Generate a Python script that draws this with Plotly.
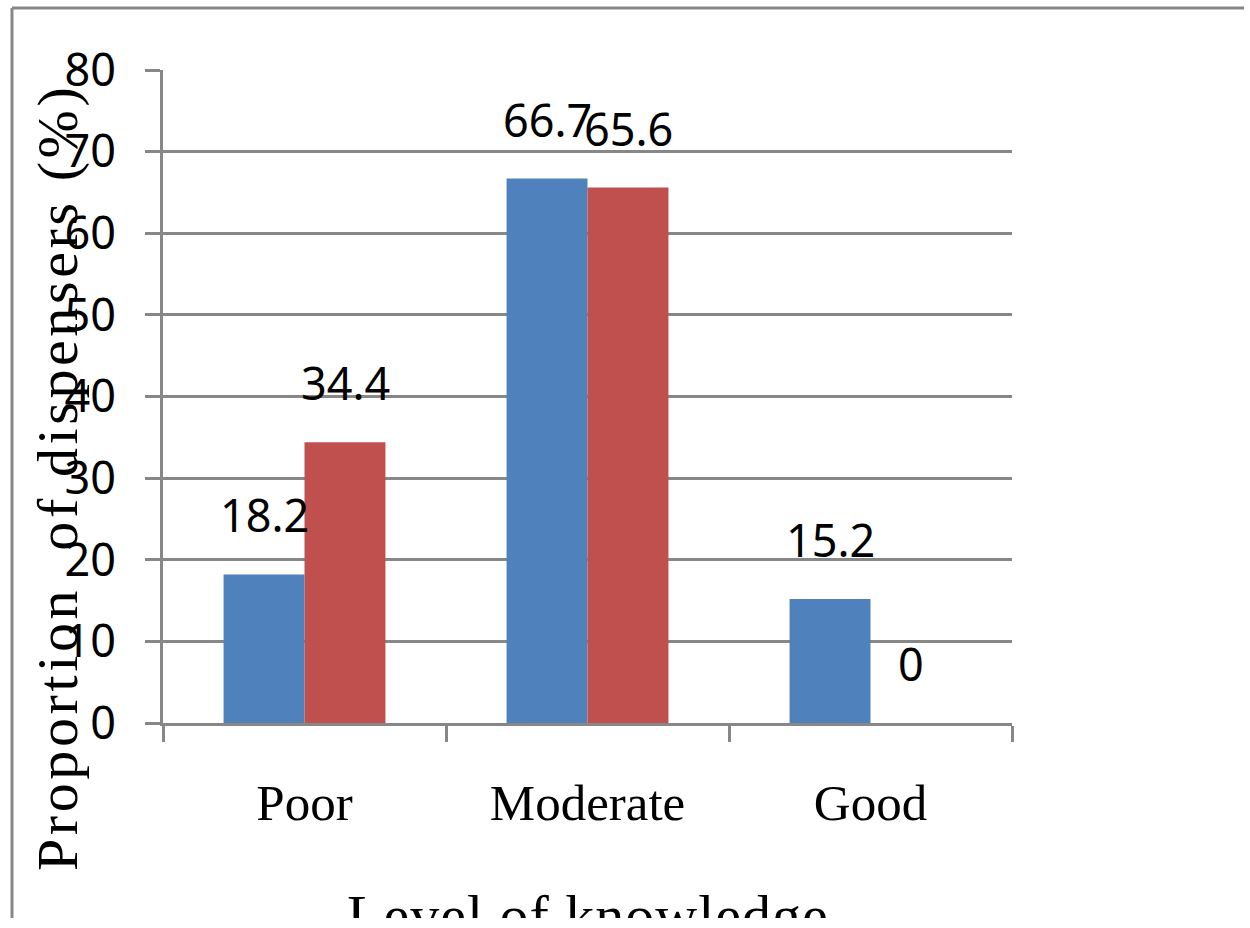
import plotly.graph_objects as go

# Knowledge level categories and the share of dispensers (%) per series
categories = ["Poor", "Moderate", "Good"]
series_1 = [18.2, 66.7, 15.2]
series_2 = [34.4, 65.6, 0]
y_ticks = [0, 10, 20, 30, 40, 50, 60, 70, 80]

W, H = 1250, 918
L, R, T, B = 163, 238, 70, 195  # plot area 163..1012 x 70..723 px

def px_x(px):
    return (px - L) / (W - L - R)

def px_y(py):
    return (H - B - py) / (H - T - B)

BLUE = "#4F81BD"
RED = "#C0504D"
GRID = "#878787"
NUM_FONT = dict(family="Noto Sans, Open Sans, sans-serif", size=45, color="black")
SERIF = "Liberation Serif, Times New Roman, serif"

fig = go.Figure()
fig.add_trace(go.Bar(x=categories, y=series_1, name="Series 1",
                     marker=dict(color=BLUE, line=dict(width=0))))
fig.add_trace(go.Bar(x=categories, y=series_2, name="Series 2",
                     marker=dict(color=RED, line=dict(width=0))))

# value labels above each bar
bar_offset = 40.5
for vals, shift in ((series_1, -bar_offset), (series_2, bar_offset)):
    for cat, v in zip(categories, vals):
        fig.add_annotation(x=cat, y=v, xref="x", yref="y", text=str(v),
                           showarrow=False, xshift=shift, yshift=27,
                           yanchor="bottom", xanchor="center", font=NUM_FONT)

# y-axis title drawn as rotated text
fig.add_annotation(
    x=px_x(57), y=px_y(478), xref="paper", yref="paper",
    text='<span style="letter-spacing:3.6px">Proportion\u00a0\u00a0of dispensers (%)</span>',
    textangle=-90, showarrow=False, xanchor="center", yanchor="middle",
    font=dict(family=SERIF, size=58, color="black"))

# x-axis title
fig.add_annotation(
    x=0.5, y=px_y(881), xref="paper", yref="paper",
    text='<span style="letter-spacing:1px">Level of knowledge</span>',
    showarrow=False, xanchor="center", yanchor="top",
    font=dict(family=SERIF, size=58, color="black"))

# outer chart frame (top and left edges)
fig.add_shape(type="line", xref="paper", yref="paper",
              x0=px_x(12), x1=px_x(1244), y0=px_y(8), y1=px_y(8),
              line=dict(color=GRID, width=3))
fig.add_shape(type="line", xref="paper", yref="paper",
              x0=px_x(12), x1=px_x(12), y0=px_y(8), y1=px_y(930),
              line=dict(color=GRID, width=3))

fig.update_layout(
    width=W, height=H,
    margin=dict(l=L, r=R, t=T, b=B),
    paper_bgcolor="white", plot_bgcolor="white",
    barmode="group", bargap=0.428, bargroupgap=0,
    showlegend=False,
)
fig.update_xaxes(
    type="category", tickson="boundaries", ticks="outside", ticklen=16,
    tickwidth=3, tickcolor=GRID, showline=True, linecolor=GRID, linewidth=3,
    showgrid=False, tickfont=dict(family=SERIF, size=51, color="black"),
    ticklabelstandoff=33,
)
fig.update_yaxes(
    range=[0, 80], tickvals=y_ticks, ticks="outside", ticklen=15,
    tickwidth=3, tickcolor=GRID, showline=True, linecolor=GRID, linewidth=3,
    showgrid=True, gridcolor=GRID, gridwidth=3, zeroline=False,
    tickfont=NUM_FONT, ticklabelstandoff=20,
)

fig.write_html("out.html")
